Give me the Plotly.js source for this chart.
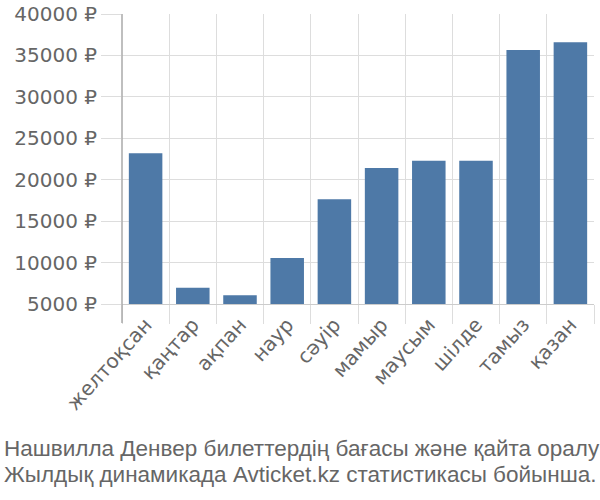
<!DOCTYPE html>
<html>
<head>
<meta charset="utf-8">
<script src="https://cdn.plot.ly/plotly-3.0.1.min.js"></script>
<style>html,body{margin:0;padding:0;background:#fff;}#chart{width:600px;height:500px;}</style>
</head>
<body>
<div id="chart"></div>
<script>
const months = ["желтоқсан","қаңтар","ақпан","наур","сәуір","мамыр","маусым","шілде","тамыз","қазан"];
const prices = [23200, 6950, 6050, 10550, 17650, 21400, 22300, 22300, 35650, 36600];
const yTickVals = [5000, 10000, 15000, 20000, 25000, 30000, 35000, 40000];
const yTickText = ["5000 ₽","10000 ₽","15000 ₽","20000 ₽","25000 ₽","30000 ₽","35000 ₽","40000 ₽"];
const titleLines = ["Нашвилла Денвер билеттердің бағасы және қайта оралу","Жылдық динамикада Avticket.kz статистикасы бойынша."];
const BASE = 5000;

const trace = {
  type: 'bar',
  x: months,
  y: prices.map(v => v - BASE),
  base: BASE,
  marker: {color: '#4e79a7', line: {width: 0}},
  hoverinfo: 'none'
};

const tickFamily = '"DejaVu Sans", Verdana, sans-serif';
const titleFont = {family: '"Liberation Sans Narrow", "Liberation Sans", sans-serif', size: 22.5, color: '#666'};

const layout = {
  width: 600, height: 500,
  margin: {l: 122, r: 6, t: 14, b: 196},
  paper_bgcolor: '#fff', plot_bgcolor: '#fff',
  showlegend: false,
  bargap: 0.29,
  font: {family: tickFamily, color: '#666'},
  xaxis: {
    type: 'category',
    tickson: 'boundaries',
    ticks: 'outside', ticklen: 19, tickcolor: '#ddd', tickwidth: 1,
    showgrid: true, gridcolor: '#ddd', gridwidth: 1,
    showline: true, linecolor: '#ccc', linewidth: 1,
    tickangle: -48,
    tickfont: {family: tickFamily, size: 20, color: '#666'},
    fixedrange: true
  },
  yaxis: {
    range: [5000, 40000],
    tickvals: yTickVals, ticktext: yTickText,
    showgrid: true, gridcolor: '#ddd', gridwidth: 1,
    zeroline: false,
    ticks: 'outside', ticklen: 20, tickcolor: '#ddd', tickwidth: 1,
    tickfont: {family: tickFamily, size: 20, color: '#666'},
    showline: false,
    fixedrange: true
  },
  shapes: [{
    type: 'line', xref: 'paper', yref: 'paper',
    x0: 0, x1: 0, y0: -19/290, y1: 1,
    line: {color: '#aaa', width: 1.5}
  }],
  annotations: titleLines.map((t, i) => ({
    xref: 'paper', yref: 'paper',
    x: -120/472, y: (304 - 434 - i * 26) / 290,
    xanchor: 'left', yanchor: 'top', align: 'left',
    showarrow: false,
    text: t,
    font: titleFont
  }))
};
Plotly.newPlot('chart', [trace], layout, {displayModeBar: false, staticPlot: true});
</script>
</body>
</html>
